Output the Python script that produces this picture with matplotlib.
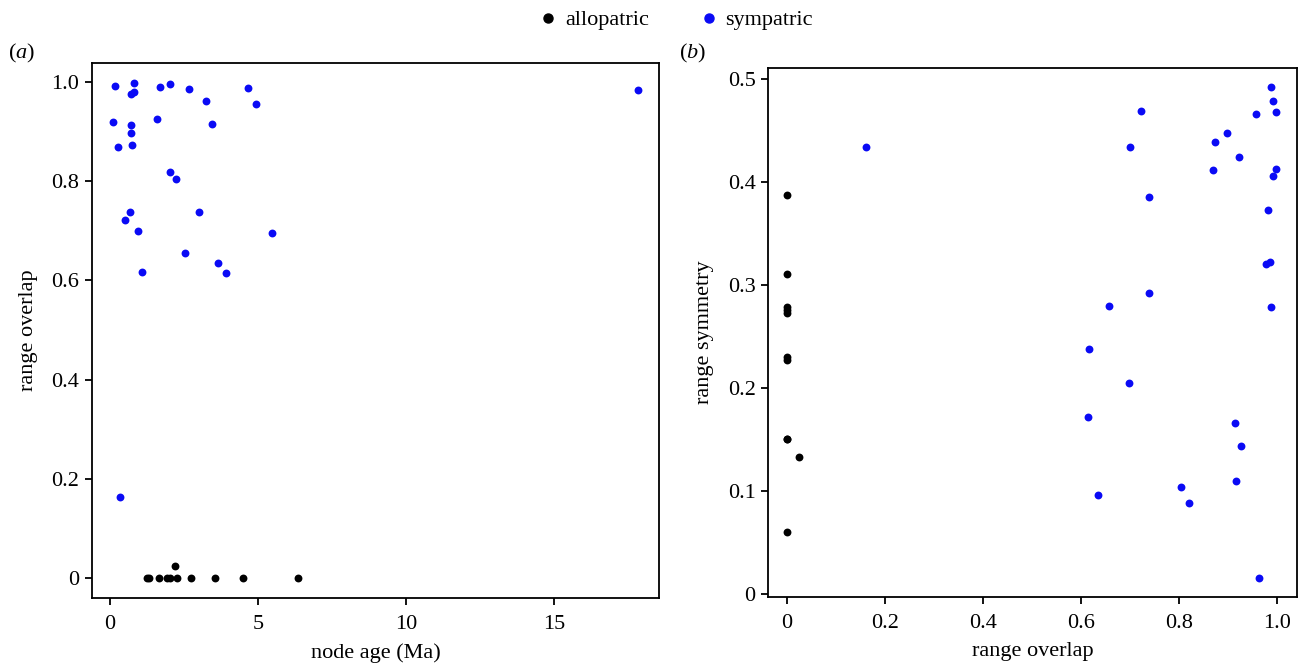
import matplotlib
matplotlib.use("Agg")
import matplotlib.pyplot as plt
from matplotlib.lines import Line2D

plt.rcParams['font.family'] = ['Liberation Serif', 'DejaVu Serif']
plt.rcParams['mathtext.fontset'] = 'custom'
plt.rcParams['mathtext.rm'] = 'Liberation Serif'
plt.rcParams['mathtext.it'] = 'Liberation Serif:italic'

# Panel (a): node age vs range overlap
allo_age = [1.24, 1.33, 1.67, 1.94, 2.03, 2.18, 2.27, 2.73, 3.56, 4.48, 6.36]
allo_overlap_a = [0.0, 0.0, 0.0, 0.0, 0.0, 0.025, 0.0, 0.0, 0.0, 0.0, 0.0]
sym_age = [0.17, 0.81, 0.72, 0.81, 1.68, 2.04, 2.66, 3.24, 4.67, 4.92,
           0.11, 0.72, 1.58, 3.45, 0.72, 0.26, 0.74, 2.04, 2.22, 0.68,
           0.52, 3.01, 0.95, 5.48, 2.52, 3.64, 1.08, 3.91, 0.34, 17.84]
sym_overlap_a = [0.991, 0.998, 0.976, 0.979, 0.990, 0.996, 0.986, 0.962, 0.987, 0.956,
                 0.920, 0.913, 0.925, 0.915, 0.897, 0.868, 0.872, 0.819, 0.804, 0.737,
                 0.722, 0.738, 0.699, 0.696, 0.656, 0.634, 0.616, 0.614, 0.163, 0.984]

# Panel (b): range overlap vs range symmetry
allo_overlap_b = [0.0, 0.0, 0.0, 0.0, 0.0, 0.0, 0.0, 0.0, 0.0, 0.025, 0.0]
allo_sym = [0.387, 0.311, 0.279, 0.276, 0.273, 0.230, 0.227, 0.150, 0.150, 0.133, 0.0605]
sym_overlap_b = [0.988, 0.991, 0.957, 0.999, 0.722, 0.898, 0.873, 0.700, 0.922, 0.869,
                 0.998, 0.992, 0.739, 0.981, 0.977, 0.985, 0.738, 0.657, 0.988, 0.697,
                 0.615, 0.914, 0.927, 0.917, 0.805, 0.820, 0.635, 0.964, 0.616, 0.161]
sym_sym = [0.492, 0.479, 0.466, 0.468, 0.469, 0.448, 0.439, 0.434, 0.424, 0.412,
           0.413, 0.406, 0.385, 0.3725, 0.320, 0.322, 0.2925, 0.280, 0.279, 0.205,
           0.172, 0.166, 0.144, 0.110, 0.104, 0.0887, 0.0958, 0.0158, 0.238, 0.434]

a_xticks = [0, 5, 10, 15]
a_xticklabels = ['0', '5', '10', '15']
a_yticks = [0, 0.2, 0.4, 0.6, 0.8, 1.0]
a_yticklabels = ['0', '0.2', '0.4', '0.6', '0.8', '1.0']
b_xticks = [0, 0.2, 0.4, 0.6, 0.8, 1.0]
b_xticklabels = ['0', '0.2', '0.4', '0.6', '0.8', '1.0']
b_yticks = [0, 0.1, 0.2, 0.3, 0.4, 0.5]
b_yticklabels = ['0', '0.1', '0.2', '0.3', '0.4', '0.5']

BLUE = '#0a0af5'
BLACK = '#000000'
FS = 16

fig = plt.figure(figsize=(13.06, 6.68), dpi=100)
axa = fig.add_axes([0.0704, 0.1048, 0.4342, 0.8009])
axb = fig.add_axes([0.5881, 0.1063, 0.4050, 0.7919])

axa.scatter(allo_age, allo_overlap_a, s=32, color=BLACK, linewidths=0, zorder=3)
axa.scatter(sym_age, sym_overlap_a, s=32, color=BLUE, linewidths=0, zorder=3)
axa.set_xlim(-0.61, 18.55)
axa.set_ylim(-0.04, 1.038)
axa.set_xticks(a_xticks, a_xticklabels)
axa.set_yticks(a_yticks, a_yticklabels)
axa.set_xlabel('node age (Ma)', fontsize=FS, labelpad=7)
axa.set_ylabel('range overlap', fontsize=FS, labelpad=10)

axb.scatter(allo_overlap_b, allo_sym, s=32, color=BLACK, linewidths=0, zorder=3)
axb.scatter(sym_overlap_b, sym_sym, s=32, color=BLUE, linewidths=0, zorder=3)
axb.set_xlim(-0.039, 1.041)
axb.set_ylim(-0.003, 0.5107)
axb.set_xticks(b_xticks, b_xticklabels)
axb.set_yticks(b_yticks, b_yticklabels)
axb.set_xlabel('range overlap', fontsize=FS, labelpad=7)
axb.set_ylabel('range symmetry', fontsize=FS, labelpad=10)

for ax in (axa, axb):
    for sp in ax.spines.values():
        sp.set_linewidth(1.3)
        sp.set_color('black')
    ax.tick_params(axis='x', pad=7)
    ax.tick_params(axis='y', pad=4)
    ax.tick_params(direction='out', length=5, width=1.3, labelsize=FS, colors='black')

fig.text(0.006, 0.920, r'($\mathit{a}$)', fontsize=FS, ha='left', va='center')
fig.text(0.520, 0.920, r'($\mathit{b}$)', fontsize=FS, ha='left', va='center')

handles = [Line2D([], [], marker='o', linestyle='none', color=BLACK, markersize=6.5),
           Line2D([], [], marker='o', linestyle='none', color=BLUE, markersize=6.5)]
fig.legend(handles, ['allopatric', 'sympatric'], loc='center', bbox_to_anchor=(0.516, 0.970),
           ncol=2, frameon=False, fontsize=FS, handletextpad=0.15, columnspacing=2.1,
           handlelength=1.2)

fig.savefig('out.png', dpi=100)
